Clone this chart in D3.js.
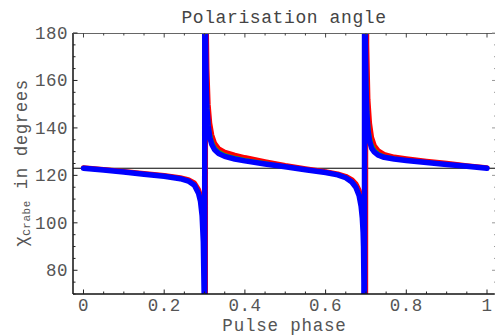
<!DOCTYPE html>
<html><head><meta charset="utf-8">
<script src="https://cdn.jsdelivr.net/npm/d3@7"></script>
<style>
html,body{margin:0;padding:0;background:#fff;}
svg{display:block;}
text{font-family:"Liberation Mono","DejaVu Sans Mono",monospace;}
</style></head>
<body>
<script>
const phase = [0, 0.05, 0.1, 0.15, 0.2, 0.24, 0.26, 0.275, 0.285, 0.29, 0.294, 0.297, 0.299, 0.300, 0.301, 0.302, 0.303, 0.304, 0.306, 0.309, 0.313, 0.318, 0.325, 0.335, 0.35, 0.375, 0.4, 0.45, 0.5, 0.55, 0.6, 0.63, 0.65, 0.665, 0.675, 0.683, 0.688, 0.691, 0.693, 0.694, 0.695, 0.696, 0.697, 0.698, 0.699, 0.700, 0.702, 0.705, 0.709, 0.714, 0.721, 0.731, 0.745, 0.77, 0.8, 0.85, 0.9, 0.95, 1.0];
const chiRed = [123.2, 122.5, 121.6, 120.8, 119.9, 119.0, 118.2, 116.8, 114, 111.5, 107, 100, 90, 75, 40, -100, 400, 190, 165, 150, 142, 137, 133.5, 131.2, 129.8, 128.5, 127.5, 125.8, 124.2, 122.8, 121.5, 120.6, 119.6, 118.2, 116.5, 113.8, 110.5, 107, 103, 100, 95, 88, 75, 40, -100, 400, 175, 152, 142, 136, 132.5, 130.3, 128.8, 127.7, 127, 126, 125.1, 124.1, 123.2];
const chiGreen = [123.1, 122.4, 121.5, 120.6, 119.7, 118.8, 117.9, 116.3, 113.2, 110, 105, 96, 82, 60, -100, 400, 185, 168, 155, 145, 139, 135, 132, 130.2, 128.8, 127.6, 126.7, 125.3, 123.9, 122.6, 121.3, 120.4, 119.3, 117.7, 115.7, 112.6, 108.8, 104.5, 100, 96, 90, 80, 60, -100, 400, 180, 160, 145, 138, 133.5, 131, 129.3, 128.2, 127.3, 126.6, 125.7, 124.8, 123.9, 123.1];
const chiBlue = [123.0, 122.3, 121.4, 120.5, 119.6, 118.6, 117.6, 115.8, 112.5, 109, 103, 92, 70, -100, 400, 200, 170, 158, 148, 141, 136, 133, 130.8, 129.2, 128, 126.9, 126.1, 124.8, 123.6, 122.4, 121.2, 120.2, 119, 117.2, 115, 111.5, 107, 102, 96, 90, 75, -100, 400, 200, 170, 158, 147, 139, 134.5, 131.5, 129.8, 128.5, 127.6, 126.9, 126.3, 125.4, 124.6, 123.8, 123.0];
const refLevel = 123;
const xTicks = [0, 0.2, 0.4, 0.6, 0.8, 1];
const yTicks = [80, 100, 120, 140, 160, 180];
const series = [
  {name:"red", values: chiRed, color:"#ff0000", width:5},
  {name:"green", values: chiGreen, color:"#00dd00", width:3},
  {name:"blue", values: chiBlue, color:"#0000ff", width:5.5}
];

const W = 495, H = 335;
const svg = d3.select("body").append("svg").attr("width", W).attr("height", H);
const x = d3.scaleLinear().domain([-0.026, 1.026]).range([73, 497.5]);
const y = d3.scaleLinear().domain([70, 180]).range([294, 33]);

svg.append("defs").append("clipPath").attr("id","clip")
  .append("rect").attr("x",73).attr("y",33).attr("width",424.5).attr("height",261);

const g = svg.append("g").attr("clip-path","url(#clip)");
g.append("line").attr("x1",73).attr("x2",497.5).attr("y1",y(refLevel)).attr("y2",y(refLevel))
  .attr("stroke","#000").attr("stroke-width",1);

const line = d3.line().x((d,i)=>x(phase[i])).y(d=>y(d));
series.forEach(s=>{
  g.append("path").attr("d", line(s.values)).attr("fill","none")
    .attr("stroke", s.color).attr("stroke-width", s.width)
    .attr("stroke-linejoin","round").attr("stroke-linecap","round");
});

// axes
const minorX = d3.range(0, 1.0001, 0.05);
const minorY = d3.range(70, 180.001, 5);
svg.append("line").attr("x1",73).attr("x2",497.5).attr("y1",294).attr("y2",294).attr("stroke","#111").attr("stroke-width",1.5);
svg.append("line").attr("x1",73).attr("x2",73).attr("y1",33).attr("y2",294).attr("stroke","#111").attr("stroke-width",1.5);
svg.append("line").attr("x1",73).attr("x2",497.5).attr("y1",33.5).attr("y2",33.5).attr("stroke","#666").attr("stroke-width",1.2);
svg.append("line").attr("x1",496.5).attr("x2",496.5).attr("y1",33).attr("y2",294).attr("stroke","#bbb").attr("stroke-width",1);

minorX.forEach(v=>{
  const major = xTicks.some(t=>Math.abs(t-v)<1e-6);
  const len = major ? 4.5 : 2.5;
  svg.append("line").attr("x1",x(v)).attr("x2",x(v)).attr("y1",294).attr("y2",294-len).attr("stroke","#222").attr("stroke-width",1);
  svg.append("line").attr("x1",x(v)).attr("x2",x(v)).attr("y1",33).attr("y2",33+len).attr("stroke","#444").attr("stroke-width",1);
});
minorY.forEach(v=>{
  const major = yTicks.some(t=>Math.abs(t-v)<1e-6);
  const len = major ? 4.5 : 2.5;
  svg.append("line").attr("x1",73).attr("x2",73+len).attr("y1",y(v)).attr("y2",y(v)).attr("stroke","#222").attr("stroke-width",1);
  svg.append("line").attr("x1",496.5).attr("x2",496.5-len).attr("y1",y(v)).attr("y2",y(v)).attr("stroke","#999").attr("stroke-width",1);
});

const labCol = "#555";
xTicks.forEach(t=>{
  svg.append("text").attr("x",x(t)).attr("y",311).attr("text-anchor","middle")
    .attr("font-size",17.5).attr("letter-spacing",0.5).attr("fill",labCol).text(t===0?"0":(t===1?"1":d3.format(".1f")(t)));
});
yTicks.forEach(t=>{
  svg.append("text").attr("x",68).attr("y",y(t)+6).attr("text-anchor","end")
    .attr("font-size",17.5).attr("letter-spacing",0.5).attr("fill",labCol).text(t);
});

svg.append("text").attr("x",284).attr("y",23).attr("text-anchor","middle")
  .attr("font-size",18).attr("letter-spacing",0.6).attr("fill","#444").text("Polarisation angle");
svg.append("text").attr("x",284.5).attr("y",331).attr("text-anchor","middle")
  .attr("font-size",17.5).attr("letter-spacing",0.8).attr("fill",labCol).text("Pulse phase");

const yl = svg.append("text").attr("transform","translate(27,163) rotate(-90)")
  .attr("text-anchor","middle").attr("font-size",17.5).attr("letter-spacing",0.5).attr("fill",labCol);
yl.append("tspan").text("χ");
yl.append("tspan").attr("font-size",11).attr("dy",3).text("Crabe");
yl.append("tspan").attr("dy",-3).text(" in degrees");
</script>
</body></html>
